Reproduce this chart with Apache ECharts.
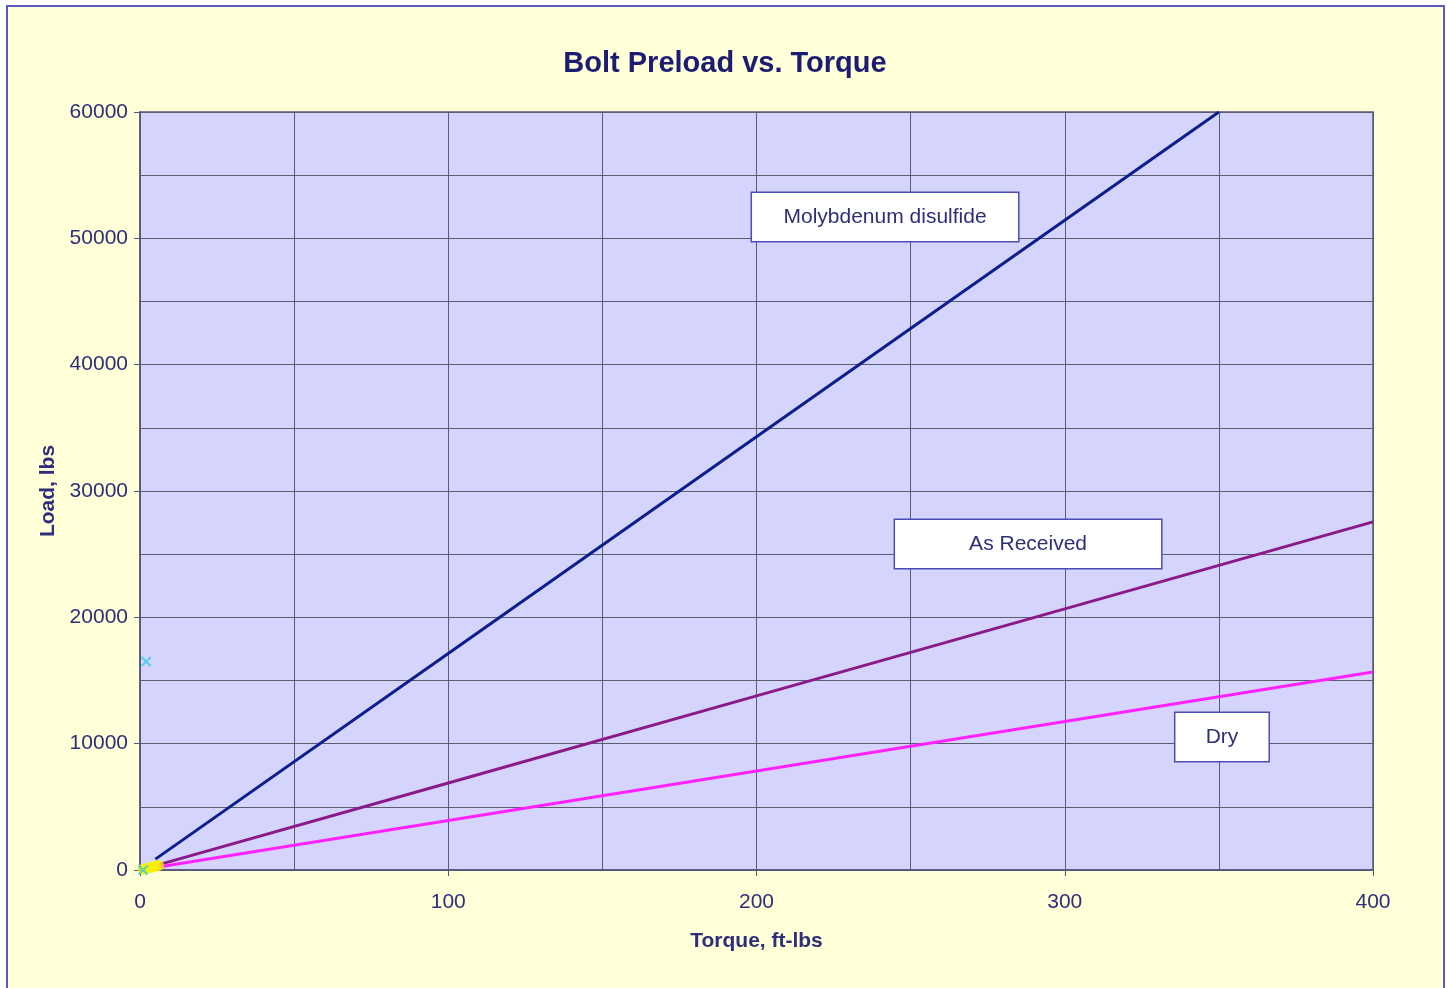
<!DOCTYPE html>
<html>
<head>
<meta charset="utf-8">
<title>Bolt Preload vs. Torque</title>
<script src="https://cdn.jsdelivr.net/npm/echarts@6/dist/echarts.min.js"></script>
<style>
  html, body { margin: 0; padding: 0; background: #ffffff; }
  #chart { width: 1447px; height: 988px; }
</style>
</head>
<body>
<div id="chart"></div>
<script>
// Torque (ft-lbs) vs. bolt preload (lbs) for three thread conditions
const molyPoints = [[5, 860], [100, 17140], [200, 34290], [300, 51430], [350, 60000]];
const asReceivedPoints = [[5, 345], [100, 6890], [200, 13780], [300, 20670], [400, 27560]];
const dryPoints = [[5, 196], [100, 3920], [200, 7840], [300, 11760], [400, 15680]];
const startPoints = [[1, 60], [2, 120], [3, 180], [4, 240], [5, 300], [6, 360]];
const strayPoints = [[2, 16500], [1, 0]];

const curveNames = ['Molybdenum disulfide', 'As Received', 'Dry'];
// where each curve's callout box sits, in data coordinates
const calloutAt = [[241.7, 51690], [288.1, 25800], [351.0, 10530]];
const calloutWidth = [266, 266, 93];

const xTicks = { min: 0, max: 400, step: 100 };
const yTicks = { min: 0, max: 60000, step: 10000 };

const FONT = 'Liberation Sans, Arial, sans-serif';
const textColor = '#2e2e7a';
const gridColor = '#5c5c70';

function callout(i) {
  return {
    silent: true,
    symbol: 'circle',
    symbolSize: 0,
    label: {
      show: true, position: 'inside', formatter: curveNames[i],
      color: textColor, fontSize: 21, fontFamily: FONT,
      backgroundColor: '#ffffff', borderColor: '#4c4cb8', borderWidth: 1.5,
      width: calloutWidth[i], height: 48, lineHeight: 48, align: 'center',
      padding: 0
    },
    data: [{ coord: calloutAt[i] }]
  };
}

const chart = echarts.init(document.getElementById('chart'), null, { renderer: 'canvas' });
chart.setOption({
  backgroundColor: '#ffffff',
  animation: false,
  graphic: [{
    type: 'rect', z: -10, silent: true,
    shape: { x: 7, y: 6, width: 1437, height: 1000 },
    style: { fill: '#ffffd8', stroke: '#5a5ac0', lineWidth: 2 }
  }],
  title: {
    text: 'Bolt Preload vs. Torque',
    left: 720, top: 44, textAlign: 'center',
    textStyle: { color: '#1c1c72', fontSize: 29, fontWeight: 'bold', fontFamily: FONT }
  },
  grid: {
    left: 140, top: 112, right: 74, bottom: 118,
    show: true, backgroundColor: '#d4d4fc', borderColor: '#55557a', borderWidth: 1.5
  },
  xAxis: {
    type: 'value', min: xTicks.min, max: xTicks.max, interval: xTicks.step,
    name: 'Torque, ft-lbs', nameLocation: 'middle', nameGap: 61,
    nameTextStyle: { color: textColor, fontSize: 21, fontWeight: 'bold', fontFamily: FONT },
    axisLine: { show: true, lineStyle: { color: '#55557a', width: 1.5 } },
    axisTick: { show: true, length: 6, lineStyle: { color: '#55557a' } },
    axisLabel: { color: textColor, fontSize: 21, margin: 22, fontFamily: FONT },
    splitLine: { show: true, lineStyle: { color: gridColor, width: 1 } },
    minorTick: { show: false, splitNumber: 2 },
    minorSplitLine: { show: true, lineStyle: { color: gridColor, width: 1 } }
  },
  yAxis: {
    type: 'value', min: yTicks.min, max: yTicks.max, interval: yTicks.step,
    name: 'Load, lbs', nameLocation: 'middle', nameGap: 81,
    nameTextStyle: { color: textColor, fontSize: 21, fontWeight: 'bold', fontFamily: FONT },
    axisLine: { show: true, lineStyle: { color: '#55557a', width: 1.5 } },
    axisTick: { show: true, length: 6, lineStyle: { color: '#55557a' } },
    axisLabel: { color: textColor, fontSize: 21, margin: 12, fontFamily: FONT, formatter: v => String(v) },
    splitLine: { show: true, lineStyle: { color: gridColor, width: 1 } },
    minorTick: { show: false, splitNumber: 2 },
    minorSplitLine: { show: true, lineStyle: { color: gridColor, width: 1 } }
  },
  series: [
    {
      name: curveNames[0], type: 'line', data: molyPoints, showSymbol: false,
      lineStyle: { color: '#0c1f8c', width: 3 }, z: 4, markPoint: callout(0)
    },
    {
      name: curveNames[1], type: 'line', data: asReceivedPoints, showSymbol: false,
      lineStyle: { color: '#8a1a8a', width: 3 }, z: 3, markPoint: callout(1)
    },
    {
      name: curveNames[2], type: 'line', data: dryPoints, showSymbol: false,
      lineStyle: { color: '#ff22ff', width: 3 }, z: 3, markPoint: callout(2)
    },
    {
      type: 'scatter', data: startPoints, symbol: 'circle', symbolSize: 11,
      itemStyle: { color: '#f8f000' }, z: 5, silent: true
    },
    {
      type: 'scatter', data: strayPoints,
      symbol: 'path://M0,0 L2,2 M2,0 L0,2', symbolSize: 9,
      itemStyle: { color: 'none', borderColor: '#33ccee', borderWidth: 2 }, z: 6, silent: true
    }
  ]
});
</script>
</body>
</html>
